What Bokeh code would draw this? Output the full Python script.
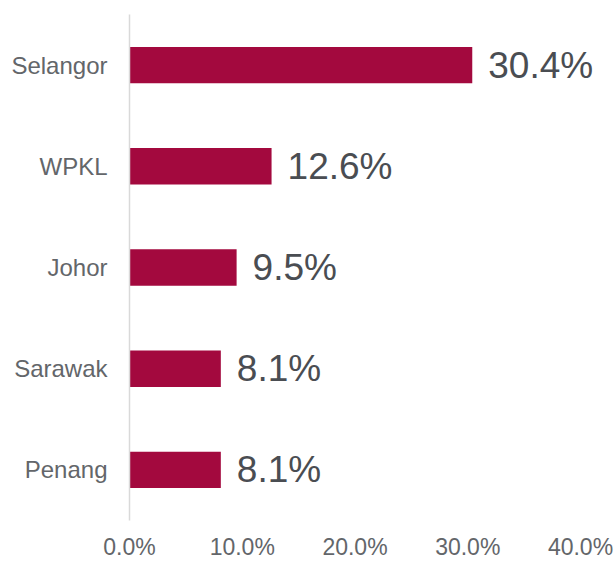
from bokeh.plotting import figure
from bokeh.models import ColumnDataSource, Range1d, FactorRange, FixedTicker, PrintfTickFormatter
from bokeh.core.properties import value
from bokeh.embed import file_html
from bokeh.resources import INLINE

states = ["Selangor", "WPKL", "Johor", "Sarawak", "Penang"]
shares = [30.4, 12.6, 9.5, 8.1, 8.1]
share_labels = ["30.4%", "12.6%", "9.5%", "8.1%", "8.1%"]
x_ticks = [0, 10, 20, 30, 40]

FONT = "Liberation Sans"

src = ColumnDataSource(dict(state=states, share=shares, label=share_labels))

# frame spans 129..616 px; 0..40 maps to 129..580 px, so the range runs past 40
x_max = 40 + 36 * 40 / 451

p = figure(
    width=616, height=563,
    y_range=FactorRange(factors=list(reversed(states))),
    x_range=Range1d(0, x_max),
    output_backend="svg", toolbar_location=None, tools="",
    min_border_left=129, min_border_right=0,
    min_border_top=14, min_border_bottom=43,
)
p.outline_line_color = None
p.xgrid.grid_line_color = None
p.ygrid.grid_line_color = None
p.background_fill_color = "white"
p.border_fill_color = "white"

p.hbar(y="state", right="share", left=0, height=0.36, source=src,
       fill_color="#a3093e", line_color=None)

p.text(x="share", y="state", text="label", source=src,
       x_offset=16, text_baseline="middle", text_align="left",
       text_font=value(FONT), text_font_size="37px", text_color="#4a4d52")

# x axis
xa = p.xaxis[0]
xa.ticker = FixedTicker(ticks=x_ticks)
xa.formatter = PrintfTickFormatter(format="%.1f%%")
xa.axis_line_color = None
xa.major_tick_line_color = None
xa.minor_tick_line_color = None
xa.major_tick_out = 0
xa.major_label_standoff = 13
xa.major_label_text_font = FONT
xa.major_label_text_font_size = "23px"
xa.major_label_text_color = "#63666a"

# y axis
ya = p.yaxis[0]
ya.axis_line_color = "#d9d9d9"
ya.axis_line_width = 1.5
ya.major_tick_line_color = None
ya.minor_tick_line_color = None
ya.major_tick_out = 0
ya.major_label_standoff = 22
ya.major_label_text_font = FONT
ya.major_label_text_font_size = "24px"
ya.major_label_text_color = "#63666a"

open("out.html", "w").write(file_html(p, INLINE))
